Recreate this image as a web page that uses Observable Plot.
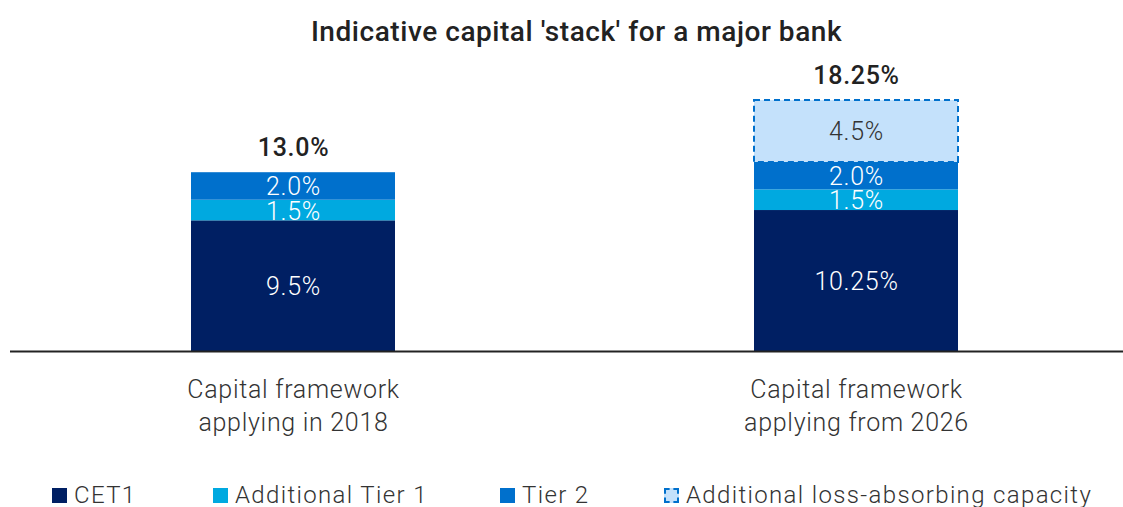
<!DOCTYPE html>
<html>
<head>
<meta charset="utf-8">
<script src="https://cdn.jsdelivr.net/npm/d3@7"></script>
<script src="https://cdn.jsdelivr.net/npm/@observablehq/plot@0.6"></script>
<style>
  body { margin: 0; background: #fff; font-family: Roboto, "Noto Sans", sans-serif; width: 1123px; height: 507px; overflow: hidden; position: relative; }
  #title { height: 60px; line-height: 64px; text-align: center; padding-left: 30px; font-size: 28px; font-weight: 500; color: #222; letter-spacing: 0.55px; }
  #chart { height: 400px; }
  #chart text { letter-spacing: 0.7px; }
  #legend { position: absolute; top: 482px; left: 0; width: 1123px; height: 26px; }
  .item { position: absolute; top: 0; height: 26px; display: flex; align-items: center; font-size: 24px; color: #333; font-weight: 300; letter-spacing: 1.35px; }
  .sw { width: 15px; height: 15px; margin-right: 7px; box-sizing: border-box; }
</style>
</head>
<body>
<div id="title">Indicative capital 'stack' for a major bank</div>
<div id="chart"></div>
<div id="legend"></div>
<script>
const categories = ["Capital framework\napplying in 2018", "Capital framework\napplying from 2026"];
const components = ["CET1", "Additional Tier 1", "Tier 2", "Additional loss-absorbing capacity"];
const cet1 = [9.5, 10.25];
const at1 = [1.5, 1.5];
const tier2 = [2.0, 2.0];
const alac = [0, 4.5];
const segLabels = [["9.5%", "1.5%", "2.0%", ""], ["10.25%", "1.5%", "2.0%", "4.5%"]];
const totals = [13.0, 18.25];
const totalLabels = ["13.0%", "18.25%"];
const colors = ["#001f63", "#00a9e0", "#0070cc", "#c4e1fb"];

const series = [cet1, at1, tier2, alac];
const data = [];
categories.forEach((c, i) => {
  components.forEach((k, j) => {
    if (series[j][i] > 0) data.push({category: c, component: k, value: series[j][i], label: segLabels[i][j]});
  });
});
const totalData = categories.map((c, i) => ({category: c, total: totals[i], label: totalLabels[i]}));

const colorOf = Object.fromEntries(components.map((k, j) => [k, colors[j]]));
const isAlac = d => d.component === components[3];
const stackOpts = {x: "category", y: "value", z: "component", order: components};

const plot = Plot.plot({
  width: 1123,
  height: 400,
  marginLeft: 10,
  marginRight: 0,
  marginTop: 40,
  marginBottom: 109,
  x: {domain: categories, paddingInner: 0.638, paddingOuter: 0.306, align: 0.522, axis: null},
  y: {domain: [0, 18.25], axis: null},
  marks: [
    Plot.barY(data, Plot.stackY({
      ...stackOpts,
      fill: d => colorOf[d.component],
      stroke: d => isAlac(d) ? "#0070cc" : "none",
      strokeWidth: 2,
      strokeDasharray: "6,4",
      inset: 0
    })),
    Plot.text(data, Plot.stackY({
      ...stackOpts,
      text: "label",
      fill: d => isAlac(d) ? "#333" : "#fff",
      fontSize: 25,
      fontWeight: 300,
      dy: 1
    })),
    Plot.text(totalData, {x: "category", y: "total", text: "label", dy: -25, fontSize: 25, fontWeight: 500, fill: "#222"}),
    Plot.text(categories, {x: d => d, y: () => 0, text: d => d, dy: 52, lineAnchor: "middle", lineHeight: 1.32, fontSize: 25, fontWeight: 300, fill: "#333"}),
    Plot.ruleY([0], {stroke: "#222", strokeWidth: 2})
  ]
});
plot.style.fontFamily = "Roboto, 'Noto Sans', sans-serif";
document.getElementById("chart").appendChild(plot);

const lefts = [52, 213, 500, 664];
const legend = document.getElementById("legend");
components.forEach((k, j) => {
  const it = document.createElement("div");
  it.className = "item";
  it.style.left = lefts[j] + "px";
  const sw = document.createElement("div");
  sw.className = "sw";
  sw.style.background = colors[j];
  if (j === 3) sw.style.border = "2px dashed #0070cc";
  it.appendChild(sw);
  const t = document.createElement("span");
  t.textContent = k;
  it.appendChild(t);
  legend.appendChild(it);
});
</script>
</body>
</html>
